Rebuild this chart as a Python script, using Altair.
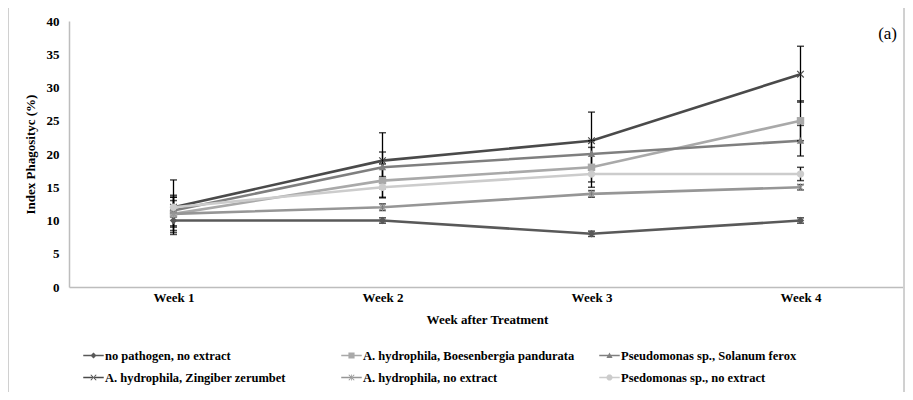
import altair as alt
import pandas as pd
import math

# ---------------- data ----------------
weeks = ["Week 1", "Week 2", "Week 3", "Week 4"]
series = [
    "no pathogen, no extract",
    "A. hydrophila, Boesenbergia pandurata",
    "Pseudomonas sp., Solanum ferox",
    "A. hydrophila, Zingiber zerumbet",
    "A. hydrophila, no extract",
    "Psedomonas sp., no extract",
]
no_pathogen = [10, 10, 8, 10]
boesenbergia = [11, 16, 18, 25]
solanum = [11.5, 18, 20, 22]
zingiber = [12, 19, 22, 32]
hydro_no = [11, 12, 14, 15]
pseudo_no = [12, 15, 17, 17]

err_no_pathogen = [1.8, 0.4, 0.4, 0.4]
err_boesenbergia = [2.5, 2.5, 3.0, 3.0]
err_solanum = [2.3, 2.3, 2.0, 2.3]
err_zingiber = [4.1, 4.2, 4.3, 4.2]
err_hydro_no = [2.0, 0.5, 0.5, 0.4]
err_pseudo_no = [1.5, 1.6, 1.2, 1.0]

values = [no_pathogen, boesenbergia, solanum, zingiber, hydro_no, pseudo_no]
errors = [err_no_pathogen, err_boesenbergia, err_solanum, err_zingiber, err_hydro_no, err_pseudo_no]

colors = ["#595959", "#a9a9a9", "#7f7f7f", "#4a4a4a", "#969696", "#cccccc"]

rows = []
for s, vals, errs in zip(series, values, errors):
    for w, v, e in zip(weeks, vals, errs):
        rows.append({"series": s, "week": w, "value": v, "lo": v - e, "hi": v + e})
df = pd.DataFrame(rows)

# ---------------- marker shapes (unit square paths) ----------------
def poly(pts, k=1.0, dx=0.0):
    return "M" + "L".join(f"{dx + x * k:.3f},{y * k:.3f}" for x, y in pts) + "Z"

def circle_pts(n=20):
    return [(math.cos(2 * math.pi * i / n), math.sin(2 * math.pi * i / n)) for i in range(n)]

t = 0.22
bar1 = [(-1, -1 + t), (-1 + t, -1), (1, 1 - t), (1 - t, 1)]
bar2 = [(-1, 1 - t), (-1 + t, 1), (1, -1 + t), (1 - t, -1)]
vbar = [(-0.12, -1), (0.12, -1), (0.12, 1), (-0.12, 1)]
marker_polys = [
    [[(0, -1), (1, 0), (0, 1), (-1, 0)]],            # diamond
    [[(-1, -1), (1, -1), (1, 1), (-1, 1)]],          # square
    [[(0, -1), (1, 0.8), (-1, 0.8)]],                # triangle
    [bar1, bar2],                                    # x
    [bar1, bar2, vbar],                              # asterisk
    [circle_pts()],                                  # circle
]

def marker_path(polys, k=1.0):
    return "".join(poly(p, k) for p in polys)

point_paths = [marker_path(p) for p in marker_polys]
line_part = poly([(-1, -0.07), (1, -0.07), (1, 0.07), (-1, 0.07)])
legend_paths = [line_part + marker_path(p, 0.3) for p in marker_polys]

# ---------------- encodings ----------------
FONT = "Liberation Serif"
x_enc = alt.X(
    "week:N",
    sort=weeks,
    scale=alt.Scale(type="point", padding=0.5),
    axis=alt.Axis(title="Week after Treatment", labelAngle=0, labelPadding=4, titlePadding=9),
)
y_axis = alt.Axis(
    title="Index Phagosityc (%)",
    values=list(range(0, 41, 5)),
    labelPadding=10,
    titlePadding=9,
)
y_scale = alt.Scale(domain=[0, 40], nice=False, zero=True)

def y_enc(field):
    return alt.Y(f"{field}:Q", scale=y_scale, axis=y_axis)

color_scale = alt.Scale(domain=series, range=colors)

lines = alt.Chart(df).mark_line(strokeWidth=2.6).encode(
    x=x_enc, y=y_enc("value"),
    color=alt.Color("series:N", scale=color_scale, legend=None),
)

err_rule = alt.Chart(df).mark_rule(color="black", strokeWidth=1.3).encode(
    x=x_enc, y=y_enc("lo"), y2="hi:Q",
)
err_lo = alt.Chart(df).mark_tick(color="black", size=7, thickness=1.5).encode(
    x=x_enc, y=y_enc("lo"),
)
err_hi = alt.Chart(df).mark_tick(color="black", size=7, thickness=1.5).encode(
    x=x_enc, y=y_enc("hi"),
)

points = alt.Chart(df).mark_point(filled=True, size=55, opacity=1).encode(
    x=x_enc, y=y_enc("value"),
    color=alt.Color("series:N", scale=color_scale, legend=None),
    shape=alt.Shape("series:N", scale=alt.Scale(domain=series, range=point_paths), legend=None),
)

leg = alt.Legend(
    title=None,
    orient="none",
    direction="horizontal",
    legendX=14,
    legendY=324,
    columns=3,
    gridAlign="all",
    columnPadding=24,
    rowPadding=5,
    padding=0,
    symbolSize=420,
    symbolStrokeWidth=0,
    labelFont=FONT,
    labelFontSize=12.5,
    labelFontWeight="bold",
    labelColor="black",
    labelLimit=400,
    labelOffset=1,
)

legend_layer = alt.Chart(df).transform_filter("false").mark_point(filled=True, opacity=1).encode(
    x=x_enc, y=y_enc("value"),
    color=alt.Color("series:N", scale=color_scale, legend=leg),
    shape=alt.Shape("series:N", scale=alt.Scale(domain=series, range=legend_paths), legend=leg),
)

frame = alt.Chart(df).mark_rect(filled=False, stroke="#d0d0d0", strokeWidth=1).encode(
    x=alt.value(-61), x2=alt.value(835), y=alt.value(-16), y2=alt.value(420),
)

chart = (
    alt.layer(frame, lines, err_rule, err_lo, err_hi, points, legend_layer)
    .resolve_scale(color="independent", shape="independent")
    .properties(
        width=836,
        height=266,
        padding={"left": 61, "top": 13, "right": 0, "bottom": 105},
        autosize=alt.AutoSizeParams(type="none"),
        title=alt.TitleParams(
            "(a)", anchor="end", font=FONT, fontSize=17, fontWeight="normal",
            color="black", dx=-8, dy=42,
        ),
    )
    .configure_view(stroke=None)
    .configure_axis(
        domainColor="#bdbdbd",
        domainWidth=1.5,
        ticks=False,
        grid=False,
        labelFont=FONT,
        labelFontSize=13,
        labelFontWeight="bold",
        labelColor="black",
        titleFont=FONT,
        titleFontSize=13,
        titleFontWeight="bold",
        titleColor="black",
    )
)

chart.save("out.html", embed_options={"renderer": "svg", "actions": False})
